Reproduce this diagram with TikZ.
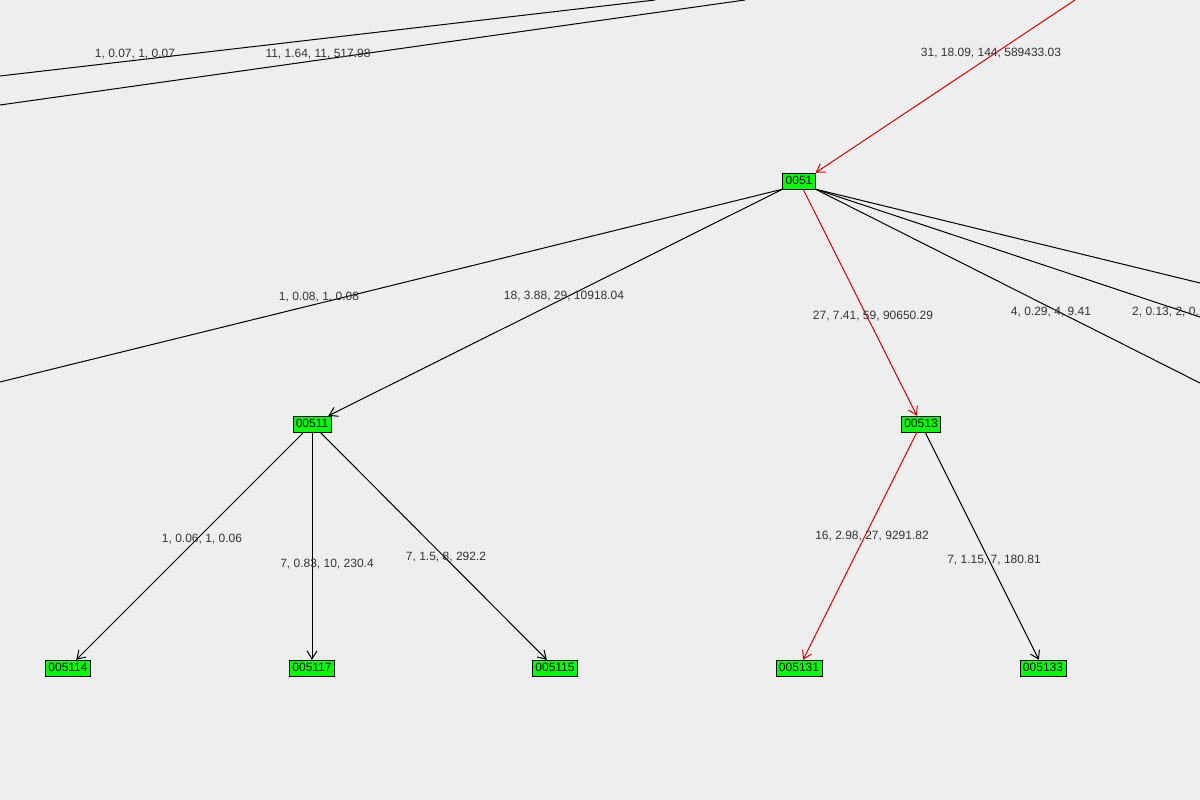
\documentclass[tikz,border=0pt]{standalone}
\usepackage{fontspec}
\setmainfont{Liberation Sans}
\usetikzlibrary{arrows.meta}
\definecolor{bg}{RGB}{238,238,238}
\definecolor{ng}{RGB}{0,255,0}
\begin{document}
\begin{tikzpicture}[x=1pt,y=-1pt,
  nd/.style={draw=black,fill=ng,font=\fontsize{12}{13}\selectfont,inner xsep=3pt,inner ysep=0pt,minimum height=16pt,text height=9pt,text depth=1.5pt},
  lb/.style={font=\fontsize{12}{13}\selectfont,text=black!80},
  ed/.style={draw=black,line width=1pt},
  ar/.style={ed,-{Straight Barb[length=8pt,width=10pt]}},
  rd/.style={draw=red!85!black,line width=1pt,-{Straight Barb[length=8pt,width=10pt]}}]
\fill[bg] (0,0) rectangle (1200,800);
\useasboundingbox (0,0) rectangle (1200,800);
\clip (0,0) rectangle (1200,800);
\node[nd] (n0051) at (799,181) {0051};
\node[nd] (n00511) at (312,424) {00511};
\node[nd] (n00513) at (921,424) {00513};
\node[nd] (n005114) at (68,668) {005114};
\node[nd] (n005117) at (312,668) {005117};
\node[nd] (n005115) at (555,668) {005115};
\node[nd] (n005131) at (799,668) {005131};
\node[nd] (n005133) at (1043,668) {005133};
\coordinate (a1) at (0,76); \coordinate (a2) at (655,0);
\coordinate (b1) at (0,105); \coordinate (b2) at (745,0);
\coordinate (r0) at (1075,0);
\coordinate (l0) at (0,382);
\coordinate (e1) at (1200,283);
\coordinate (e2) at (1200,317);
\coordinate (e3) at (1200,383);
\draw[ed] (a1) -- (a2);
\draw[ed] (b1) -- (b2);
\draw[rd] (r0) -- (n0051.north east);
\draw[ed] (n0051.south west) -- (l0);
\draw[ed] (n0051.south east) -- (e1);
\draw[ed] (n0051.south east) -- (e2);
\draw[ed] (n0051.south east) -- (e3);
\draw[ar] (n0051) -- (n00511);
\draw[rd] (n0051) -- (n00513);
\draw[ar] (n00511) -- (n005114);
\draw[ar] (n00511) -- (n005117);
\draw[ar] (n00511) -- (n005115);
\draw[rd] (n00513) -- (n005131);
\draw[ar] (n00513) -- (n005133);
\node[lb] (t1) at (135,54) {1, 0.07, 1, 0.07};
\node[lb] (t2) at (318,54) {11, 1.64, 11, 517.98};
\node[lb] (t3) at (991,53) {31, 18.09, 144, 589433.03};
\node[lb] (t4) at (319,297) {1, 0.08, 1, 0.08};
\node[lb] (t5) at (564,296) {18, 3.88, 29, 10918.04};
\node[lb] (t6) at (873,316) {27, 7.41, 59, 90650.29};
\node[lb] (t7) at (1051,312) {4, 0.29, 4, 9.41};
\node[lb,anchor=west,inner sep=0pt] (t8) at (1132,312) {2, 0.13, 2, 0.13};
\node[lb] (t9) at (202,539) {1, 0.06, 1, 0.06};
\node[lb] (t10) at (327,564) {7, 0.83, 10, 230.4};
\node[lb] (t11) at (446,557) {7, 1.5, 8, 292.2};
\node[lb] (t12) at (872,536) {16, 2.98, 27, 9291.82};
\node[lb] (t13) at (994,560) {7, 1.15, 7, 180.81};
\end{tikzpicture}
\end{document}
